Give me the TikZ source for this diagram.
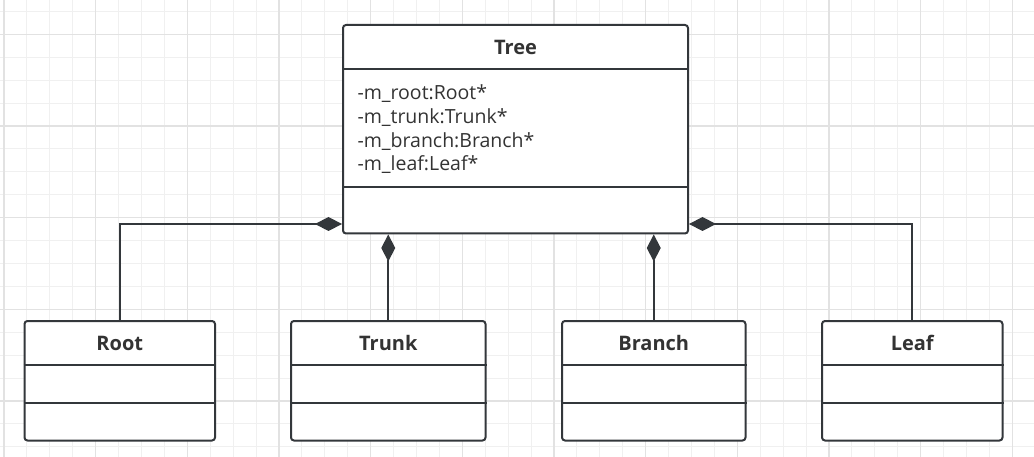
\documentclass[tikz,border=0pt]{standalone}
\usepackage{fontspec}
\setmainfont{Open Sans}
\usepackage{xcolor}
\usepackage{tikz}
\usetikzlibrary{calc,positioning,arrows.meta}

\definecolor{linec}{HTML}{33373B}
\definecolor{textc}{HTML}{333333}
\definecolor{gridminor}{HTML}{F0F0F0}
\definecolor{gridmajor}{HTML}{E2E2E2}

\begin{document}
\begin{tikzpicture}[x=1pt,y=-1pt,
  cls/.style={draw=linec,line width=2pt,rounded corners=3pt,fill=white,anchor=north west,inner sep=0pt},
  sep/.style={draw=linec,line width=2pt},
  ttl/.style={font=\bfseries\fontsize{20}{24}\selectfont,text=textc},
  attr/.style={font=\fontsize{19.5}{24}\selectfont,text=textc,anchor=base west,inner sep=0pt},
  comp/.style={draw=linec,line width=1.8pt,-{Diamond[length=27pt,width=14pt]}}]
  \fill[white] (0,0) rectangle (1034,457);
  \useasboundingbox (0,0) rectangle (1034,457);
  % grid
  \foreach \k in {0,...,45} \draw[gridminor,line width=1pt] ({4+22.917*\k},0) -- ++(0,457);
  \foreach \k in {0,...,19} \draw[gridminor,line width=1pt] (0,{11.41+22.917*\k}) -- ++(1034,0);
  \foreach \k in {0,...,11} \draw[gridmajor,line width=1.3pt] ({4+91.667*\k},0) -- ++(0,457);
  \foreach \k in {0,...,4} \draw[gridmajor,line width=1.3pt] (0,{34.33+91.667*\k}) -- ++(1034,0);

  % Tree
  \node[cls,minimum width=345pt,minimum height=208.5pt] (tree) at (342,24) {};
  \node[ttl] (treet) at ([yshift=-23.5pt]tree.north) {Tree};
  \draw[sep] ([yshift=-45.5pt]tree.north west) -- ([yshift=-45.5pt]tree.north east);
  \draw[sep] ([yshift=-163.5pt]tree.north west) -- ([yshift=-163.5pt]tree.north east);
  \foreach \a [count=\i] in {-m\_root:Root*,-m\_trunk:Trunk*,-m\_branch:Branch*,-m\_leaf:Leaf*}
    \node[attr] (attr\i) at (357.3,{99.3+23.9*(\i-1)}) {\a};

  % parts
  \foreach \n/\t/\x/\w in {root/Root/23.5/190.5,trunk/Trunk/290/194.5,branch/Branch/561/183.5,leaf/Leaf/821/180.5}{
    \node[cls,minimum width=\w pt,minimum height=119.5pt] (\n) at (\x,320) {};
    \node[ttl] (\n t) at ([yshift=-23pt]\n.north) {\t};
    \draw[sep] ([yshift=-45pt]\n.north west) -- ([yshift=-45pt]\n.north east);
    \draw[sep] ([yshift=-82.5pt]\n.north west) -- ([yshift=-82.5pt]\n.north east);
  }

  % composition
  \coordinate (tl) at ([yshift=10.5pt]tree.south west);
  \coordinate (tr) at ([yshift=10.5pt]tree.south east);
  \draw[comp] (root.north) |- (tl);
  \draw[comp] (leaf.north) |- (tr);
  \draw[comp] (trunk.north) -- (trunk.north |- tree.south);
  \draw[comp] (branch.north) -- (branch.north |- tree.south);
\end{tikzpicture}
\end{document}
